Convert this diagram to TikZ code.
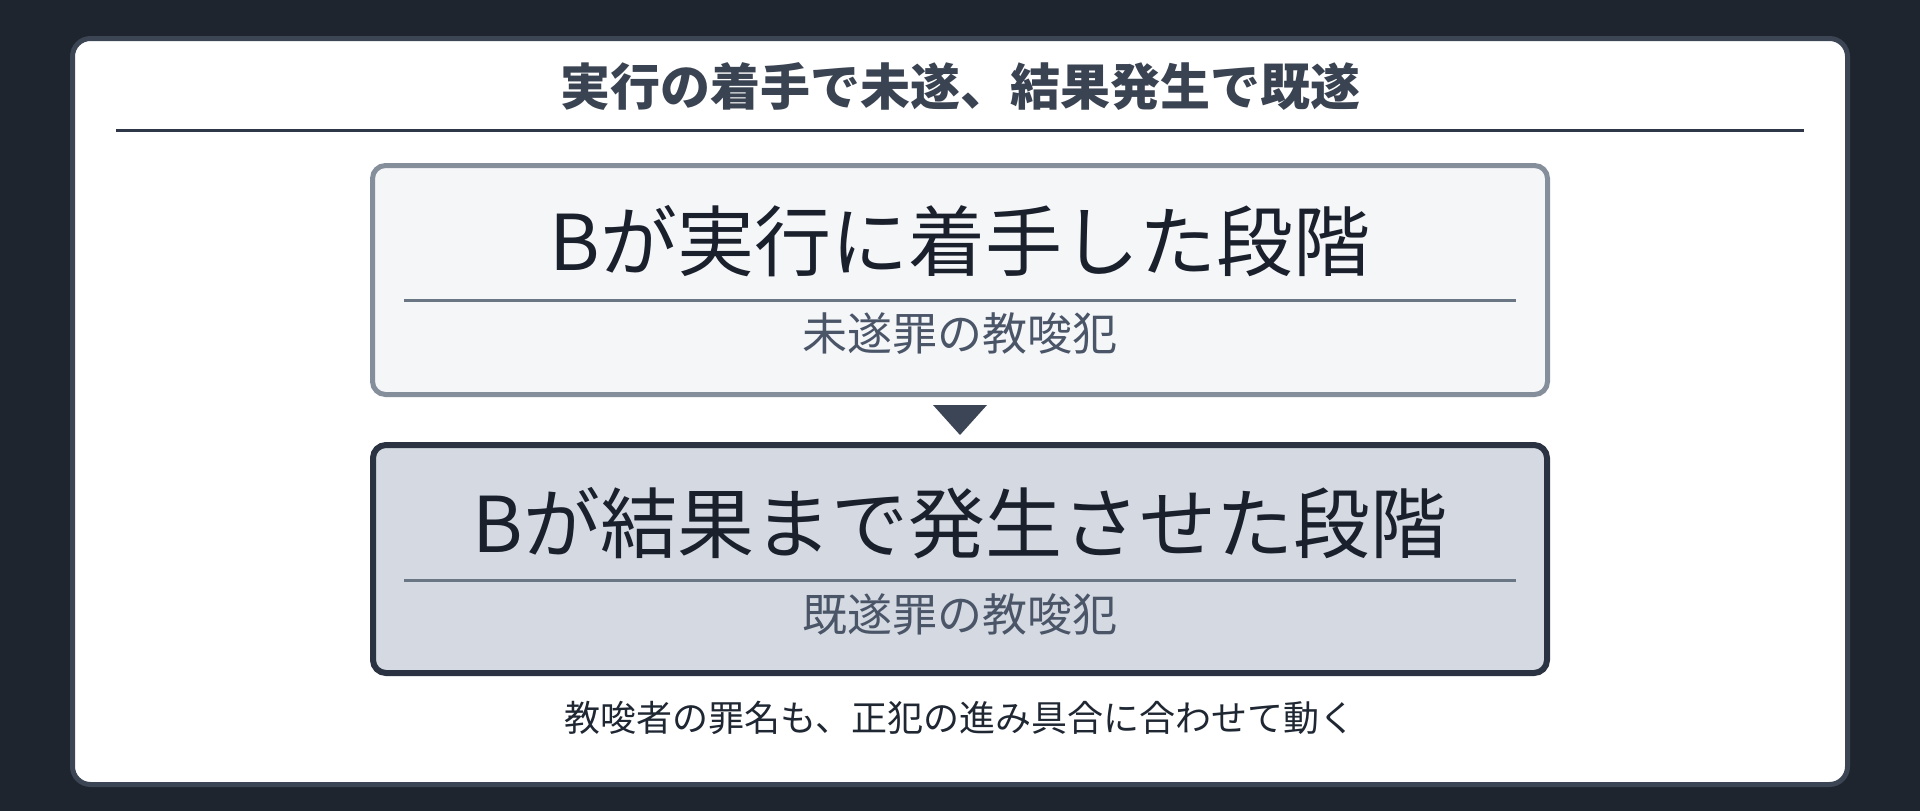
\documentclass[tikz,border=0pt]{standalone}
\usepackage{fontspec}
\setmainfont{Noto Sans CJK JP}
\definecolor{bgdark}{HTML}{1E252F}
\definecolor{cardborder}{HTML}{3C4554}
\definecolor{titlecol}{HTML}{3A4352}
\definecolor{rulecol}{HTML}{2D3748}
\definecolor{topfill}{HTML}{F5F6F8}
\definecolor{topborder}{HTML}{858E9B}
\definecolor{divcol}{HTML}{6B7685}
\definecolor{maincol}{HTML}{1A202C}
\definecolor{subcol}{HTML}{4A5568}
\definecolor{tricol}{HTML}{3C4555}
\definecolor{botfill}{HTML}{D5DAE2}
\definecolor{botborder}{HTML}{2B3342}
\definecolor{footcol}{HTML}{1F2733}
\tikzset{
  stagebox/.style={rectangle, rounded corners=13pt, inner sep=0pt, minimum width=1175pt, minimum height=229pt},
  maintext/.style={anchor=base, inner sep=0pt, text=maincol, font=\fontsize{77}{90}\selectfont},
  subtext/.style={anchor=base, inner sep=0pt, text=subcol, font=\fontsize{45}{54}\selectfont},
  divider/.style={draw=divcol, line width=3pt},
}
\begin{document}
\begin{tikzpicture}[x=1pt,y=-1pt]
\useasboundingbox (0,0) rectangle (1920,811);
\fill[bgdark] (0,0) rectangle (1920,811);
% card
\draw[cardborder, fill=white, line width=5pt, rounded corners=18pt] (72.5,38.5) rectangle (1847.5,784.5);
% title
\node[anchor=base, inner sep=0pt, text=titlecol, font=\fontsize{50}{60}\selectfont\bfseries] (title) at (960,105) {実行の着手で未遂、結果発生で既遂};
\coordinate (ruleL) at (116,130.5);
\coordinate (ruleR) at (1804,130.5);
\draw[rulecol, line width=3pt] (ruleL) -- (ruleR);
% top stage
\node[stagebox, draw=topborder, fill=topfill, line width=5pt] (topbox) at (960,280) {};
\node[maintext] (topmain) at (960,270) {Bが実行に着手した段階};
\coordinate (tdL) at (404,300);
\coordinate (tdR) at (1516,300);
\draw[divider] (tdL) -- (tdR);
\node[subtext] (topsub) at (960,350) {未遂罪の教唆犯};
% arrow triangle
\coordinate (triL) at (933,405);
\coordinate (triR) at (987,405);
\coordinate (triB) at (960,435);
\fill[tricol] (triL) -- (triR) -- (triB) -- cycle;
% bottom stage
\node[stagebox, draw=botborder, fill=botfill, line width=6pt, minimum width=1174pt, minimum height=228pt] (botbox) at (960,559) {};
\node[maintext] (botmain) at (960,552) {Bが結果まで発生させた段階};
\coordinate (bdL) at (404,580);
\coordinate (bdR) at (1516,580);
\draw[divider] (bdL) -- (bdR);
\node[subtext] (botsub) at (960,631) {既遂罪の教唆犯};
% footer
\node[anchor=base, inner sep=0pt, text=footcol, font=\fontsize{36}{44}\selectfont] (footer) at (960,731) {教唆者の罪名も、正犯の進み具合に合わせて動く};
\end{tikzpicture}
\end{document}
